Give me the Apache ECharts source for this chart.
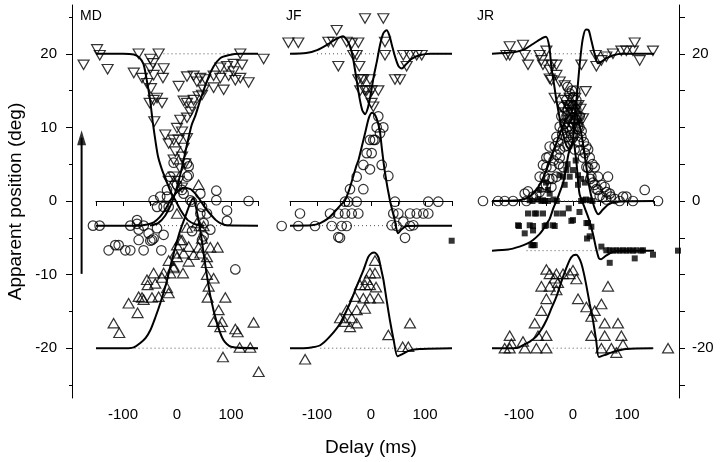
<!DOCTYPE html>
<html><head><meta charset="utf-8">
<script src="https://cdn.jsdelivr.net/npm/echarts@6/dist/echarts.min.js"></script>
<style>html,body{margin:0;padding:0;background:#fff}#c{width:720px;height:462px}</style>
</head><body><div id="c"></div>
<script>
// ---------- tick labels / categories ----------
const panelNames = ['MD', 'JF', 'JR'];
const xLabelValues = [-100, 0, 100];
const yMajorLeft = [20, 10, 0, -10, -20];
const yMinorLeft = [25, 15, 5, -5, -15, -25];
const yTicksRight = [25, 20, 15, 10, 5, 0, -5, -10, -15, -20, -25];
const yLabelsRight = [20, 0, -20];
const yTitle = 'Apparent position (deg)';
const xTitle = 'Delay (ms)';

// ---------- MD ----------
const mdDown = [[-173,18.5],[-148,20.6],[-143,19.8],[-128.5,17.9],[-71,20],[-49.4,19.3],[-44.5,18.7],[-34,20],[-80,17.4],[-64.8,16.7],[-49.4,18],[-43.3,17.1],[-24.8,18],[-26,16.7],[-55.6,16],[-48.2,15.3],[-43.3,13.7],[-37,14],[-27.8,13.3],[-50.7,13.3],[-42,10.8],[3.1,15.6],[18.5,13.3],[12.3,13.6],[27.8,12.8],[24.6,12.1],[6.1,11],[18.5,11.3],[0,9.9],[9.3,9.4],[-21.7,9],[-6.2,8.3],[-15.4,7.8],[3.1,8.3],[18.5,8.5],[12.3,7.2],[-3.1,6.7],[9.3,6],[-6.2,5.6],[15.4,5.1],[6.1,4.4],[-6.2,3.3],[3.1,2.7],[-15.4,2.7],[-3.1,2],[9.3,1.8],[18.5,16.9],[30.8,17],[43.2,16.7],[52.4,16.5],[37,16.2],[67.8,17],[80.2,16.7],[95.6,17],[104.8,17.6],[117.2,20],[120.4,18.5],[160.4,19.3],[108,16.4],[117.2,16.7],[132.6,16.1],[86.4,15.1],[67.8,15.4],[49.3,15.1],[40,14.2],[46.3,14.4],[80.2,18.1],[92.6,18.3],[104.8,18.6],[30.8,13.7]];
const mdCirc = [[-155.6,-3.35],[-143.3,-3.35],[-86.5,-3.35],[-74,-3.1],[-61.8,-3.35],[-71,-3.9],[-52.6,-4.4],[-37,-3.7],[-24.8,-4.6],[-43.3,-5.1],[-71,-5.3],[-49.4,-5.4],[-126.6,-6.7],[-114.3,-6],[-108,-6],[-95.7,-6.7],[-86.5,-6.7],[-61.8,-6.7],[-29,-6.7],[108,-9.3],[92.6,-2.7],[49.3,-4.8],[46.3,-5.3],[132.6,0],[72.8,1.4],[72.8,0.1],[92.6,-1.3],[18.5,3.3],[21.6,4.7],[-6.2,5.2],[0,2.2],[12.3,1],[-18.5,0.6],[-31,0.6],[-37,-0.8],[-24.8,-0.8],[-43.3,0.1],[27.8,-0.1],[43.2,1],[46.3,-0.8],[55.5,-1.7],[18.5,5.1],[21.6,3.5],[-12.4,3.3],[-18.5,1.5],[9.3,1.5],[24.6,0.1],[-15.4,-0.8],[-74,-2.6],[-46.3,-5.3],[43.2,-1.7],[49.3,-3],[61.7,-3.9],[27.8,-4.1]];
const mdUp = [[-117.4,-16.6],[-106.9,-17.9],[-89.6,-13.9],[-73,-15.2],[-71,-13],[-64.8,-13.1],[-61.8,-13.4],[-55.6,-10.7],[-54.4,-11.4],[-43.3,-9.8],[-40.2,-11.2],[-46.3,-13.1],[-34,-13],[-27.8,-10.4],[-24.8,-9.8],[-18.5,-11.8],[-15.4,-12.5],[-12.4,-9.8],[-6.2,-9.1],[11.1,-9.8],[-3.1,-7.1],[0,-6],[9.3,-5.3],[12.3,-7.1],[21.6,-8.2],[30.8,-7.3],[40,-6.3],[61.7,-6.3],[75.3,-6.3],[18.5,-3.6],[41.9,-3.4],[55.5,-8.4],[55.5,-10],[58.6,-11.6],[67.8,-10.5],[56.8,-13.1],[89.5,-13.1],[77.1,-14.8],[67.8,-16.4],[83.3,-16.4],[80.2,-17.1],[108,-17.4],[112.3,-17.8],[141.9,-16.5],[116,-19.9],[135.7,-19.9],[85.1,-21.2],[151.2,-23.2],[40,2.2],[0,-1.7],[37,-3],[49.3,-3.4],[6.1,-5.3],[21.6,-6.2],[46.3,-5.1],[0,-7.6],[43.2,-7.1],[55.5,-7.6],[-15.4,-8.1],[-6.2,-8.9]];
const mdFitDownL = [[-150,20],[-100,20],[-80,19.9],[-70,19.5],[-62,18.6],[-55,16],[-50,13.8],[-45,10.8],[-40,8.2],[-35,6],[-28,4.3],[-20,2.8],[-12,1.3],[-3,0.1],[8,-1.4],[20,-2.6],[35,-3.2],[50,-3.35]];
const mdFitDownR = [[-50,-3.35],[-35,-3],[-22,-2],[-10,-0.3],[0,1.9],[9,4.5],[18,7.5],[27,10.3],[34,11.6],[43,13.7],[56,16.4],[68,18.3],[80,19.4],[95,19.8],[117,20],[150,20]];
const mdFitCirc = [[-150,-3.35],[-70,-3.35],[-55,-3.2],[-43,-2.9],[-32,-2.2],[-22,-1.2],[-12,0.1],[0,1.2],[12,1.8],[25,1.6],[35,0.9],[43,0.1],[52,-0.9],[62,-1.8],[72,-2.6],[80,-3],[92,-3.3],[150,-3.35]];
const mdFitUp = [[-150,-20],[-90,-20],[-80,-19.9],[-68,-19.3],[-58,-18.6],[-49,-17.5],[-40,-15.8],[-31,-13.9],[-20,-11.2],[-12,-8.8],[-3,-6.3],[6,-4],[15,-2.2],[23,-0.6],[30,0.4],[35,-0.8],[43,-3.9],[52,-8.5],[62,-13],[74,-16.6],[86,-18.9],[100,-19.8],[150,-20]];
const mdRefs = [[-25,150,20],[-150,150,-3.35],[-86,150,-20]];
// arrow drawn in the left-axis strip (x from 0 to 1 across that strip)
const mdArrow = [[0.48,-9.9],[0.48,8.6]];

// ---------- JF ----------
const jfDown = [[-153,21.5],[-134.6,21.5],[-11.1,24.8],[22.8,24.8],[-63.5,23.2],[-79,21.6],[-69.8,21.6],[-45,21.6],[-35.7,21.4],[-23.5,21.5],[-26.5,19.8],[25.9,21.6],[25.9,19.8],[59.8,19.8],[72.2,19.8],[84.6,19.8],[93.9,19.8],[-60.5,18.3],[-21.6,18.3],[66,18.3],[44.4,16.5],[53.7,16.5],[-23.5,16.5],[-14.2,16.5],[-1.9,16.5],[-11.1,15],[1.2,15],[13.6,15],[-5,14.2],[1.2,13.3],[4.3,12.8],[-32.8,19.8],[-17,16.5],[-8,15],[-20,15]];
const jfCirc = [[-165.4,-3.4],[-134.6,-3.4],[-103.7,-3.4],[-72.8,-3.4],[-54.3,-3.4],[-45,-3.4],[-131.5,-1.7],[-75.9,-1.7],[-60.5,-1.7],[-48.1,-1.7],[-35.7,-1.7],[-23.5,-1.7],[-48.1,-0.1],[-42,-0.1],[-26.5,-0.1],[-38.9,1.6],[-14.2,1.6],[-26.5,3.3],[-14.2,4.9],[-1.9,4.3],[19.8,4.9],[32.1,3.4],[-8,6.5],[1.2,6.5],[4.3,8.3],[-1.9,8.3],[7.4,8.3],[10.5,10],[22.8,10],[16.7,9.2],[13.5,11.5],[44.4,-0.1],[106,-0.1],[124.6,-0.1],[41.3,-1.7],[50.6,-1.7],[72.2,-1.7],[84.6,-1.7],[96.9,-1.7],[106.1,-1.7],[47.5,-3.4],[59.8,-2.8],[72.2,-3.4],[-60.5,-4.9],[-57.4,-5],[63,-5],[78.3,-3.3],[38.3,-3.3]];
const jfUp = [[-122,-21.5],[7.4,-8.1],[-1.9,-9.8],[7.4,-9.8],[-8,-10.7],[-20.4,-11.4],[-11.1,-11.4],[-1.9,-11.4],[9.3,-11.7],[-29.6,-13],[-14.2,-13.2],[-1.9,-13.2],[13.5,-13.2],[-11.1,-14.6],[-26.5,-14.8],[-45,-14.8],[-57.4,-15.9],[-35.7,-15.9],[-48.1,-16.4],[-26.5,-16.6],[-38.9,-17.1],[72.2,-16.6],[32.1,-18.2],[58.6,-19.8],[69.1,-19.8]];
const jfSq = [[149.4,-5.4]];
const jfFitDown = [[-150,20],[-120,20.1],[-100,20.5],[-80,21.3],[-65,22],[-52,22.4],[-44,21.8],[-38,20.8],[-33,19.3],[-27,16.6],[-21,13.9],[-16,12.3],[-11,11.8],[-6,12.6],[-1,14.3],[5,16.9],[11,19],[17,21.3],[23,22.8],[29,23.2],[34,22.5],[39,21.1],[45,19.5],[51,18.3],[57,18],[64,18.5],[75,19.3],[90,19.8],[110,20],[150,20]];
const jfFitCirc = [[-150,-3.35],[-110,-3.3],[-94,-3],[-80,-2.4],[-70,-1.7],[-58,-0.7],[-48,0.1],[-40,1.6],[-33,3.3],[-27,4.8],[-23,5.6],[-17,7.4],[-10,9.5],[-4,11.3],[2,12],[8,11.6],[13,10.6],[17,9.2],[20,7.2],[26,3.8],[35,0.1],[44,-2.6],[50,-4.4],[56,-3.9],[66,-3.4],[90,-3.35],[150,-3.35]];
const jfFitUp = [[-150,-20],[-125,-20],[-110,-19.9],[-94,-19.6],[-76,-18.4],[-57,-16.6],[-39,-13.9],[-26.5,-11.6],[-14,-9.4],[-5,-7.6],[1,-7.1],[6,-7],[10,-7.2],[14,-7.7],[18,-9],[23,-10.7],[29,-13.5],[35,-16.2],[42,-18.9],[49,-21.1],[58,-20.8],[72,-20.3],[90,-20.1],[150,-20]];
const jfRefs = [[-100,150,20],[-150,150,-3.35],[-94,150,-20]];

// ---------- JR ----------
const jrDown = [[-117.2,21],[-117.2,19.8],[-123.3,19.8],[-92.6,21.2],[-89.4,19.8],[-83.3,18.5],[-61.7,19.8],[-49.3,20.4],[-58.5,19.1],[-55.6,18.5],[-40,18.5],[-43.2,17.8],[-30.7,18.5],[-40,16.4],[-30.7,17.1],[-24.6,16.2],[-43.2,16.6],[-15.4,15.7],[-33.9,14],[-15.4,13.7],[-6.1,14],[-21.5,12.8],[15.5,18.5],[23.5,14.9],[43.3,18.3],[42,19.8],[52.6,19.1],[61.7,19.6],[74,20],[89.6,20.4],[98.8,20.4],[114.3,21.5],[111,20.4],[123.5,19.1],[148,20.4],[-6.1,12.4],[6.3,12.8],[0,11.9],[12.4,11.2],[18.5,11.2],[-9.3,11],[3.1,10.5],[-6.1,9.9],[-10,13],[-3,13],[4,14],[10,13],[-12,10.5],[0,10],[8,10],[-3,12],[5,11],[-14,12],[14,12.5],[3,8.5],[-4,8]];
const jrCirc = [[-166.7,0],[-138.9,0],[-126.5,0],[-111,0],[-89.4,1],[-83.3,1.3],[-86.3,0],[-74,0.6],[-61.7,3.3],[-55.6,4.9],[-49.3,5.9],[-43.2,7.4],[-33.9,7.4],[-30.7,8.7],[-24.6,10.1],[-21.6,11.5],[-18.5,12.8],[-12.3,13.7],[-6.1,14.6],[0,14.1],[6.2,13.7],[-49.3,4.6],[-40,4.6],[-52.4,3.3],[-40,1.9],[-55.6,1.9],[-24.6,5.9],[-15.4,7.4],[-18.5,4.6],[-12.3,8.7],[0,8.7],[-9.3,10.1],[9.3,10.1],[15.5,8.7],[24.8,7.4],[30.9,5.9],[40.2,4.6],[46.3,3.3],[52.5,2.2],[64.8,3.3],[58.7,1.9],[68,1],[77.2,0.3],[92.6,0.6],[98.8,0.6],[111,0],[132.8,1.5],[157.4,0],[18.5,5.9],[24.8,4.6],[34,3.3],[-30.7,3.3],[12.4,6.9],[37,2.5],[43.3,1.6],[49.4,0.7],[61.7,0.2],[86.4,0],[12.4,11.5],[6.2,12.4],[-9.3,12.4],[-18.5,9.6],[-30.7,6.3],[6,11],[-3,9],[3,7],[-28,8],[-24,7],[-20,9],[-16,10.5],[-12,11.5],[-8,13],[-4,12],[0,13],[4,12.5],[8,11.5],[12,10],[16,9.5],[20,8],[-10,7.5],[-6,9.5],[2,10.5],[10,8],[-26,5],[-36,5.5],[-44,3],[-50,2.2],[-62,1.2],[-68,0.8],[-45,6],[-38,3],[22,6.5],[28,4.5],[32,3],[40,2.2],[46,1.5],[55,0.5],[62,1.2],[70,0.6],[28,7],[36,5],[-2,15],[4,15],[-10,15.5]];
const jrSq = [[-80.2,0.1],[-58.5,0],[-46.3,0],[-43.2,1],[-12.3,4.2],[0,4.2],[9.3,3.5],[-18.5,3.3],[-6.1,3.3],[-15.4,2.2],[9.3,2.2],[-46.3,1.5],[-55.6,0.1],[18.5,0.1],[30.9,0.1],[-67.8,-1.7],[-55.6,-1.7],[-18.5,-1.7],[0,-2.6],[-52.4,-3.4],[-33.9,-3.4],[27.8,-3],[34,-3.5],[30.9,-4.8],[-74,-3.4],[-74,-6],[52.6,-6.2],[-83.3,-1.7],[-70.9,-1.7],[-101.8,-3.3],[-80.2,-3.3],[-49.3,-3.3],[-37,-3.3],[-3,-2.7],[-89.4,-4.4],[-74,-4],[24.8,-3],[26,-5.1],[-77,-6],[-70.9,-6],[61.7,-6.7],[68,-6.7],[80.2,-6.7],[92.6,-6.7],[105,-6.7],[117.2,-6.7],[129.6,-6.7],[68,-8.4],[114.3,-7.8],[148.1,-7.3],[194.4,-6.75],[-100,-3.4],[74,-6.75],[86.4,-6.75],[98.8,-6.75],[111,-6.75],[126.6,-6.75],[-75,0],[-65,0.2],[-52,0],[-36,0.2],[-30,0],[15,0],[24,0.2],[36,0],[-62,1.5],[-50,2.5],[-25,3.5],[-10,5],[5,5.5],[15,3],[22,2.5],[-30,-1.7],[-8,-1],[12,-1.5]];
const jrUp = [[-117.2,-18.3],[-126.5,-20],[-114,-19.4],[-117.2,-20],[-92.6,-19.1],[-89.4,-20],[-67.8,-20],[-49.3,-20],[-64.8,-18.3],[-49.3,-18.3],[-70.9,-16.6],[-58.5,-14.9],[-49.3,-13.3],[-58.5,-11.6],[-43.2,-11.6],[-30.7,-12.1],[-49.3,-9.3],[-43.2,-9.9],[-33.9,-10.5],[-27.8,-11.1],[-30.7,-9.9],[-18.5,-9.9],[-6.2,-9.9],[0,-9.4],[6.2,-10.6],[9.3,-13.3],[24.8,-14.4],[34,-15.7],[40.2,-14.9],[52.6,-14],[64.8,-11.6],[34,-18.3],[58.7,-18.3],[58.7,-16.6],[83.3,-16.6],[89.6,-18.3],[52.6,-20],[71.1,-20],[80.2,-20.6],[92.6,-19.5],[176,-20]];
const jrFitDown = [[-150,20],[-110,20.2],[-90,20.6],[-75,21.3],[-60,22],[-50,22.3],[-44,21],[-40,18.2],[-35,15.8],[-30.7,13.7],[-24,11],[-18,9],[-12,7.5],[-6,7],[0,8.5],[3,11],[8,15],[13,19],[18,22],[24,23.3],[29,23.2],[34,21.8],[40,20],[46,18.7],[52,18.9],[62,19.4],[75,19.8],[90,20],[150,20]];
const jrFitCirc = [[-150,0],[-100,0.1],[-85,0.4],[-75,0.9],[-65,1.8],[-55,3.2],[-45,5],[-35,7],[-25,9],[-15,10.8],[-5,11.8],[3,12],[10,11],[17,8.5],[24,5],[30,2],[36,0],[42,-1.3],[47,-1.8],[55,-1.2],[65,-0.5],[80,-0.1],[150,0]];
const jrFitSq = [[-150,-6.75],[-120,-6.6],[-99,-6.2],[-85,-5.8],[-74,-5.3],[-62,-4.5],[-55.6,-3.9],[-48,-3],[-43,-2.4],[-36,-0.9],[-30,0.1],[-24,1.3],[-18.5,2.4],[-14,4],[-8,6.5],[0,8],[6,5.5],[12,1],[22,-1],[30,-2.6],[37,-4.5],[43,-6.5],[48,-7.8],[52,-7.9],[60,-7.5],[74,-6.9],[90,-6.75],[150,-6.75]];
const jrFitUp = [[-150,-20],[-111,-20],[-100,-19.9],[-92.6,-19.6],[-80,-19.1],[-67.8,-18.4],[-58,-17.4],[-49.3,-16.2],[-40,-14.6],[-30.7,-13],[-18.5,-10.3],[-6,-8],[0,-7.4],[6,-7.3],[11,-7.7],[15.5,-8.5],[20,-9.8],[25,-11.6],[31,-14],[37,-16.2],[43,-19],[48,-21.2],[60,-20.9],[74,-20.5],[99,-20.1],[148,-20]];
const jrRefs = [[-93,150,20],[-150,150,0],[-86,150,-6.75],[-45,150,-20]];

// ---------- layout ----------
const FONT = '"Liberation Sans", Arial, Helvetica, sans-serif';
const TOP = 5, H = 393, YMIN = -26.77, YMAX = 26.63;
const panelLefts = [96, 290, 492];
const PW = 162;

const grids = panelLefts.map(l => ({left: l, width: PW, top: TOP, height: H}));
grids.push({left: 72, width: 20, top: TOP, height: H});   // left axis strip
grids.push({left: 669, width: 10, top: TOP, height: H});  // right axis

const xAxes = panelLefts.map((l, i) => ({
  type: 'value', gridIndex: i, min: -150, max: 150, interval: 50,
  axisLine: {show: true, lineStyle: {color: '#000', width: 1}},
  axisTick: {show: true, length: 5, lineStyle: {color: '#000', width: 1}},
  axisLabel: {customValues: xLabelValues, color: '#000', fontSize: 15, fontFamily: FONT, margin: 9},
  splitLine: {show: false},
  name: i === 1 ? xTitle : '', nameLocation: 'middle', nameGap: 40,
  nameTextStyle: {color: '#000', fontSize: 19, fontFamily: FONT}
}));
xAxes.push({type: 'value', gridIndex: 3, show: false, min: 0, max: 1});
xAxes.push({type: 'value', gridIndex: 4, show: false, min: 0, max: 1});

const yAxes = panelLefts.map((l, i) => ({type: 'value', gridIndex: i, show: false, min: YMIN, max: YMAX}));
yAxes.push({
  type: 'value', gridIndex: 3, position: 'left', min: YMIN, max: YMAX,
  axisLine: {show: true, onZero: false, lineStyle: {color: '#000', width: 1}},
  axisTick: {show: true, customValues: yMajorLeft, length: 6, lineStyle: {color: '#000'}},
  axisLabel: {customValues: yMajorLeft, color: '#000', fontSize: 15, fontFamily: FONT, margin: 15},
  splitLine: {show: false},
  name: yTitle, nameLocation: 'middle', nameGap: 47, nameRotate: 90,
  nameTextStyle: {color: '#000', fontSize: 19, fontFamily: FONT}
});
yAxes.push({
  type: 'value', gridIndex: 3, position: 'left', min: YMIN, max: YMAX,
  axisLine: {show: false},
  axisTick: {show: true, customValues: yMinorLeft, length: 3, lineStyle: {color: '#000'}},
  axisLabel: {show: false}, splitLine: {show: false}
});
yAxes.push({
  type: 'value', gridIndex: 4, position: 'right', min: YMIN, max: YMAX,
  axisLine: {show: true, onZero: false, lineStyle: {color: '#000', width: 1}},
  axisTick: {show: true, customValues: yTicksRight, length: 6, lineStyle: {color: '#000'}},
  axisLabel: {customValues: yLabelsRight, color: '#000', fontSize: 15, fontFamily: FONT, margin: 13},
  splitLine: {show: false}
});

const series = [];
function refLines(p, refs) {
  refs.forEach(r => series.push({
    type: 'line', xAxisIndex: p, yAxisIndex: p, data: [[r[0], r[2]], [r[1], r[2]]],
    symbol: 'none', silent: true, clip: false, z: 1,
    lineStyle: {color: '#555', width: 1, type: [1, 3]}
  }));
}
function scatter(p, data, kind) {
  const s = {
    type: 'scatter', xAxisIndex: p, yAxisIndex: p, data: data, clip: false, z: 2,
    itemStyle: {color: 'rgba(0,0,0,0)', borderColor: '#000', borderWidth: 1.2}
  };
  if (kind === 'down') { s.symbol = 'triangle'; s.symbolSize = [11, 9.5]; s.symbolRotate = 180; }
  if (kind === 'up') { s.symbol = 'triangle'; s.symbolSize = [11, 9.5]; }
  if (kind === 'circ') { s.symbol = 'circle'; s.symbolSize = 9.5; }
  if (kind === 'sq') { s.symbol = 'rect'; s.symbolSize = 6; s.itemStyle = {color: '#000'}; }
  series.push(s);
}
function curve(p, data) {
  series.push({
    type: 'line', xAxisIndex: p, yAxisIndex: p, data: data, symbol: 'none',
    smooth: 0.25, clip: false, z: 3, lineStyle: {color: '#000', width: 2}
  });
}

refLines(0, mdRefs); refLines(1, jfRefs); refLines(2, jrRefs);

scatter(0, mdDown, 'down'); scatter(0, mdCirc, 'circ'); scatter(0, mdUp, 'up');
curve(0, mdFitDownL); curve(0, mdFitDownR); curve(0, mdFitCirc); curve(0, mdFitUp);

scatter(1, jfDown, 'down'); scatter(1, jfCirc, 'circ'); scatter(1, jfUp, 'up'); scatter(1, jfSq, 'sq');
curve(1, jfFitDown); curve(1, jfFitCirc); curve(1, jfFitUp);

scatter(2, jrDown, 'down'); scatter(2, jrCirc, 'circ'); scatter(2, jrUp, 'up'); scatter(2, jrSq, 'sq');
curve(2, jrFitDown); curve(2, jrFitCirc); curve(2, jrFitSq); curve(2, jrFitUp);

// arrow (in the left axis strip)
series.push({
  type: 'line', xAxisIndex: 3, yAxisIndex: 3, z: 4, silent: true,
  data: mdArrow, symbol: 'none',
  lineStyle: {color: '#000', width: 2}
});
series.push({
  type: 'scatter', xAxisIndex: 3, yAxisIndex: 3, z: 5, silent: true,
  data: [mdArrow[1]], symbol: 'triangle', symbolSize: [9, 15],
  itemStyle: {color: '#000'}
});

const labelPos = [[80, 9], [286, 9], [477, 9]];
const chart = echarts.init(document.getElementById('c'), null, {renderer: 'canvas'});
chart.setOption({
  animation: false,
  backgroundColor: '#fff',
  grid: grids, xAxis: xAxes, yAxis: yAxes, series: series,
  graphic: panelNames.map((n, i) => ({
    type: 'text', left: labelPos[i][0], top: labelPos[i][1],
    style: {text: n, fill: '#000', font: '14px ' + FONT}
  }))
});
</script></body></html>
